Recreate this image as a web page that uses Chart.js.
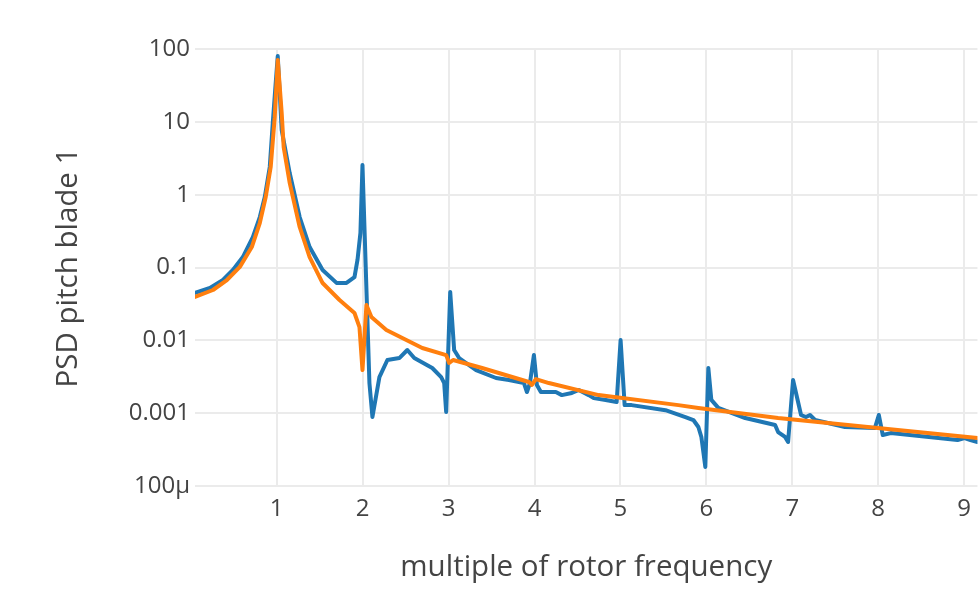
<!DOCTYPE html>
<html>
<head>
<meta charset="utf-8">
<script src="https://cdn.jsdelivr.net/npm/chart.js@4/dist/chart.umd.min.js"></script>
<style>
  html, body { margin: 0; padding: 0; background: #fff; }
  #wrap { width: 980px; height: 597px; }
</style>
</head>
<body>
<div id="wrap"><canvas id="psd" width="980" height="597"></canvas></div>
<script>
// measured trace (blue), multiple of rotor frequency vs PSD
const blueX = [0.049, 0.223, 0.374, 0.49, 0.606, 0.722, 0.803, 0.861, 0.919, 0.954, 0.988, 1.012, 1.058, 1.151, 1.267, 1.383, 1.534, 1.696, 1.812, 1.905, 1.94, 1.974, 1.998,
  2.079, 2.114, 2.195, 2.288, 2.427, 2.52, 2.601, 2.81, 2.914, 2.949, 2.972, 3.019, 3.065, 3.123, 3.32, 3.552, 3.703, 3.877, 3.912, 3.947, 3.993,
  4.028, 4.074, 4.248, 4.318, 4.434, 4.515, 4.631, 4.689, 4.828, 4.956, 5.002, 5.049, 5.13, 5.524, 5.756, 5.849, 5.907, 5.942, 5.988,
  6.023, 6.058, 6.139, 6.452, 6.8, 6.835, 6.916, 6.951, 7.009, 7.102, 7.16, 7.206, 7.265, 7.613, 7.961, 8.007, 8.053, 8.146, 8.923, 9.005, 9.074, 9.155, 9.25];
const blueY = [0.0447, 0.0523, 0.0673, 0.0925, 0.139, 0.262, 0.493, 0.93, 2.4, 9.6, 34, 80, 7.7, 1.98, 0.493, 0.191, 0.0925, 0.0615, 0.0615, 0.0737, 0.127, 0.298, 2.55,
  0.00259, 0.000885, 0.00313, 0.00537, 0.00571, 0.00736, 0.00571, 0.00417, 0.00313, 0.00259, 0.00104, 0.0461, 0.00736, 0.00571, 0.00391, 0.00304, 0.00285, 0.00259, 0.00195, 0.00259, 0.00628,
  0.00244, 0.00195, 0.00195, 0.00177, 0.00189, 0.00208, 0.00177, 0.00161, 0.00152, 0.00142, 0.0101, 0.00129, 0.00129, 0.0011, 0.000885, 0.000805, 0.000646, 0.000471, 0.000182,
  0.00417, 0.00152, 0.00118, 0.000858, 0.000687, 0.000551, 0.000471, 0.000402, 0.00285, 0.000944, 0.000885, 0.000944, 0.000805, 0.000646, 0.000625, 0.000944, 0.000501, 0.000533, 0.000428, 0.000456, 0.000428, 0.000402, 0.00039];

// model trace (orange)
const orangeX = [0.049, 0.258, 0.42, 0.571, 0.71, 0.803, 0.872, 0.93, 0.977, 1.012, 1.058, 1.081, 1.151, 1.267, 1.383, 1.534, 1.731, 1.905, 1.963, 1.998,
  2.044, 2.102, 2.276, 2.694, 2.972, 3.007, 3.053, 3.39, 3.935, 3.97, 4.016, 4.167, 4.747, 5.675, 5.907, 6.835, 7.995, 9.155, 9.25];
const orangeY = [0.0394, 0.0491, 0.0673, 0.102, 0.191, 0.408, 0.93, 2.4, 11.6, 70.6, 13.2, 4.5, 1.45, 0.36, 0.139, 0.0612, 0.0358, 0.0237, 0.0152, 0.00391,
  0.0305, 0.0209, 0.0139, 0.00785, 0.00628, 0.00489, 0.00537, 0.00417, 0.00268, 0.00244, 0.00294, 0.00259, 0.00177, 0.00129, 0.00118, 0.000858, 0.000625, 0.000456, 0.00044];

const xTicks = [1, 2, 3, 4, 5, 6, 7, 8, 9];
const yTicks = [0.0001, 0.001, 0.01, 0.1, 1, 10, 100];
const yTickLabels = ['100μ', '0.001', '0.01', '0.1', '1', '10', '100'];

const pts = (xs, ys) => xs.map((x, i) => ({ x: x, y: ys[i] }));

const font = 'Open Sans';

new Chart(document.getElementById('psd'), {
  type: 'line',
  data: {
    datasets: [
      { label: 'measured', data: pts(blueX, blueY), borderColor: '#1f77b4', borderWidth: 4, order: 2 },
      { label: 'model', data: pts(orangeX, orangeY), borderColor: '#ff7f0e', borderWidth: 4, order: 1 }
    ]
  },
  options: {
    responsive: false,
    animation: false,
    layout: { padding: { top: 49, right: 0, bottom: 0, left: 0 } },
    elements: {
      point: { radius: 0 },
      line: { tension: 0, borderJoinStyle: 'round', borderCapStyle: 'round' }
    },
    plugins: { legend: { display: false }, tooltip: { enabled: false } },
    scales: {
      x: {
        type: 'linear',
        min: 0.049,
        max: 9.155,
        afterBuildTicks: s => { s.ticks = xTicks.map(v => ({ value: v })); },
        afterFit: s => { s.height = 111; },
        grid: { color: '#ebebeb', lineWidth: 2, drawTicks: false },
        border: { display: false },
        ticks: { color: '#444', padding: 9, font: { family: font, size: 24 }, callback: v => String(v) },
        title: { display: true, text: 'multiple of rotor frequency', color: '#444',
          font: { family: font, size: 29.5 }, padding: { top: 0, bottom: 12 } }
      },
      y: {
        type: 'logarithmic',
        min: 0.0001,
        max: 100,
        afterBuildTicks: s => { s.ticks = yTicks.map(v => ({ value: v })); },
        afterFit: s => { s.width = 195; },
        grid: { color: '#ebebeb', lineWidth: 2, drawTicks: false },
        border: { display: false },
        ticks: { color: '#444', padding: 5, font: { family: font, size: 24 },
          callback: v => yTickLabels[yTicks.indexOf(v)] },
        title: { display: true, text: 'PSD pitch blade 1', color: '#444',
          font: { family: font, size: 29.5 }, padding: { top: 51, bottom: 0 } }
      }
    }
  }
});
</script>
</body>
</html>
